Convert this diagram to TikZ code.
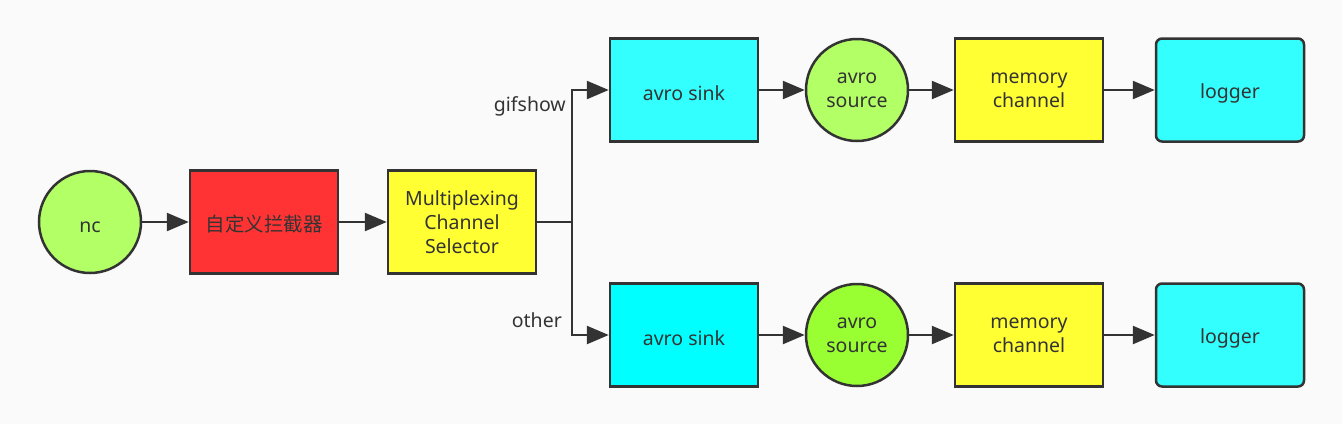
\documentclass[tikz,border=0pt]{standalone}
\usepackage{fontspec}
\setmainfont{Noto Sans}
\newfontfamily\cjk{Noto Sans CJK SC}
\usetikzlibrary{shapes}
\usetikzlibrary{arrows.meta}
\definecolor{ink}{HTML}{333333}
\definecolor{paper}{HTML}{FAFAFA}
\definecolor{lightgreen}{HTML}{B3FF66}
\definecolor{deepgreen}{HTML}{99FF33}
\definecolor{redbox}{HTML}{FF3333}
\definecolor{yellowbox}{HTML}{FFFF33}
\definecolor{cyanbox}{HTML}{33FFFF}
\definecolor{purecyan}{HTML}{00FFFF}

\begin{document}
\begin{tikzpicture}[x=1pt,y=-1pt]
				\tikzstyle{every node}=[font=\fontsize{19.5}{24}\selectfont,text=ink]
				\tikzstyle{box}=[rectangle,draw=ink,line width=2.5pt,minimum width=148pt,minimum height=103pt,align=center,inner sep=0pt,execute at begin node={\rule{0pt}{21pt}}]
				\tikzstyle{ball}=[circle,draw=ink,line width=2.5pt,minimum size=102pt,align=center,inner sep=0pt,execute at begin node={\rule{0pt}{21pt}}]
				\tikzstyle{flow}=[draw=ink,line width=2.5pt,-{Triangle[length=22pt,width=18pt]}]
				
				\fill[paper] (0,0) rectangle (1342,424);
				
				\node[ball,fill=lightgreen] (nc) at (90,222) {nc};
				\node[box,fill=redbox] (filter) at (264,222) {\cjk 自定义拦截器};
				\node[box,fill=yellowbox] (selector) at (462,222) {Multiplexing\\Channel\\Selector};
				\coordinate (split) at (572,222);
				
				% gifshow row
				\node[box,fill=cyanbox] (sinkA) at (684,90) {avro sink};
				\node[ball,fill=lightgreen] (sourceA) at (857,90) {avro\\source};
				\node[box,fill=yellowbox] (memA) at (1029,90) {memory\\channel};
				\node[box,fill=cyanbox,rounded corners=6pt] (logA) at (1230,90) {logger};
				
				% other row
				\node[box,fill=purecyan] (sinkB) at (684,335) {avro sink};
				\node[ball,fill=deepgreen] (sourceB) at (857,335) {avro\\source};
				\node[box,fill=yellowbox] (memB) at (1029,335) {memory\\channel};
				\node[box,fill=cyanbox,rounded corners=6pt] (logB) at (1230,335) {logger};
				
				\node[anchor=east,inner sep=0pt] (gifshow) at (566,106) {gifshow};
				\node[anchor=east,inner sep=0pt] (other) at (562,320) {other};
				
				\draw[flow] (nc) -- (filter);
				\draw[flow] (filter) -- (selector);
				\draw[draw=ink,line width=2.5pt] (selector.east) -- (split);
				\draw[flow] (split) |- (sinkA.west);
				\draw[flow] (split) |- (sinkB.west);
				\draw[flow] (sinkA) -- (sourceA);
				\draw[flow] (sourceA) -- (memA);
				\draw[flow] (memA) -- (logA);
				\draw[flow] (sinkB) -- (sourceB);
				\draw[flow] (sourceB) -- (memB);
				\draw[flow] (memB) -- (logB);
				
\end{tikzpicture}
\end{document}
